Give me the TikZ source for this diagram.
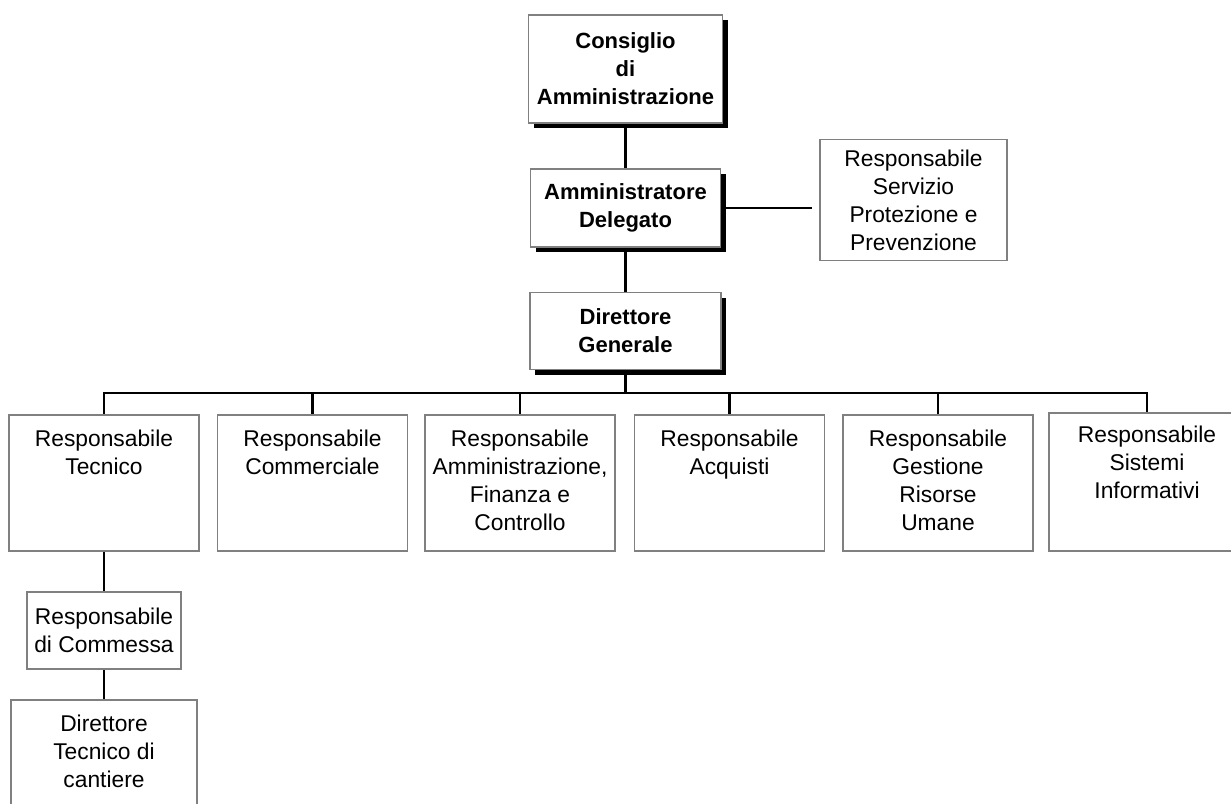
\documentclass[tikz,border=0pt]{standalone}
\usepackage{fontspec}
\setmainfont{Liberation Sans}
\usepackage{tikz}
\usetikzlibrary{shadows}

\newcommand{\orgbold}{\bfseries\fontsize{22}{28}\selectfont}
\newcommand{\orgbody}{\fontsize{22.8}{28}\selectfont}

\begin{document}
\begin{tikzpicture}[
    x=1pt,y=1pt,
    chief/.style={draw=black!50, line width=1.6pt, fill=white, align=center,
      font=\orgbold, inner sep=0pt, minimum width=192pt,
      drop shadow={shadow xshift=5pt, shadow yshift=-5pt, fill=black, opacity=1}},
    post/.style={draw=black!50, line width=1.4pt, fill=white, align=center,
      font=\orgbody, inner sep=0pt},
    unit/.style={post, minimum width=190pt, minimum height=136pt},
    utext/.style={anchor=north, align=center, font=\orgbody, inner sep=0pt, yshift=-15pt},
    link/.style={line width=2.2pt, black}
  ]
    \useasboundingbox (0,0) rectangle (1231,-803);
    \clip (0,0) rectangle (1231,-803);

    \node[chief, minimum width=194pt, minimum height=108pt] (cda) at (625.5,-69)
      {Consiglio\\di\\Amministrazione};
    \node[chief, minimum width=190pt, minimum height=78pt] (ad) at (625.5,-208)
      {Amministratore\\Delegato};
    \node[post, minimum width=187pt, minimum height=121pt] (rspp) at (913.5,-200)
      {Responsabile\\Servizio\\Protezione e\\Prevenzione};
    \node[chief, minimum width=191pt, minimum height=77pt] (dg) at (625.5,-331)
      {Direttore\\Generale};
    \coordinate (bus) at (625.5,-393);

    \node[unit, label={[utext]north:{Responsabile\\Tecnico}}] (rt) at (104,-483) {};
    \node[unit, label={[utext]north:{Responsabile\\Commerciale}}] (rc) at (312.5,-483) {};
    \node[unit, label={[utext]north:{Responsabile\\Amministrazione,\\Finanza e\\Controllo}}] (raf) at (520,-483) {};
    \node[unit, label={[utext]north:{Responsabile\\Acquisti}}] (ra) at (729.5,-483) {};
    \node[unit, label={[utext]north:{Responsabile\\Gestione\\Risorse\\Umane}}] (rg) at (938,-483) {};
    \node[unit, minimum width=196pt, minimum height=138pt,
      label={[utext, yshift=2pt]north:{Responsabile\\Sistemi\\Informativi}}] (rsi) at (1147,-482) {};

    \node[post, line width=2.4pt, minimum width=154pt, minimum height=77pt] (com) at (104,-630.5)
      {Responsabile\\di Commessa};
    \node[unit, minimum width=186pt, label={[utext]north:{Direttore\\Tecnico di\\cantiere}}] (dtc) at (104,-768) {};

    \draw[link] (cda) -- (ad);
    \draw[link] (ad) -- (dg);
    \draw[link, shorten >=7pt] (ad.east) -- (rspp.west |- ad.east);
    \draw[link] (dg) -- (bus);
    \foreach \u in {rt,rc,raf,ra,rg,rsi}
      \draw[link] (bus) -| (\u.north);
    \draw[link] (rt) -- (com);
    \draw[link] (com) -- (dtc);
  \end{tikzpicture}
\end{document}
